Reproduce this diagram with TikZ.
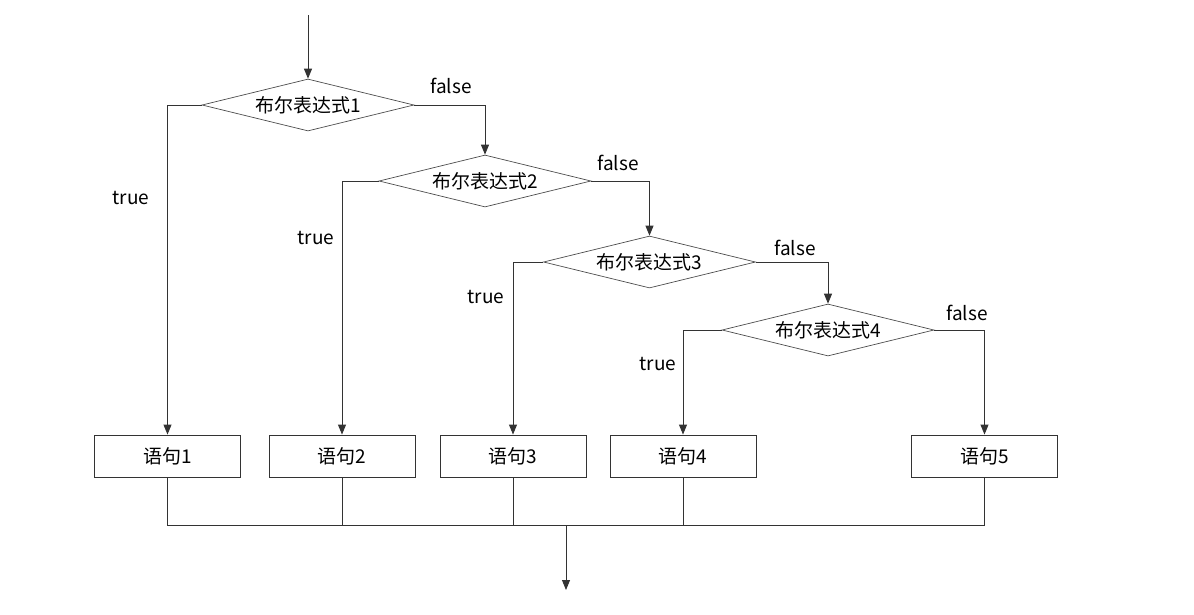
\documentclass[tikz,border=0pt]{standalone}
\usepackage{fontspec}
\setmainfont{Noto Sans CJK SC}
\usetikzlibrary{shapes.geometric,arrows.meta}
\begin{document}
\begin{tikzpicture}[x=1pt,y=-1pt,
  line/.style={draw=black!80, line width=0.9pt},
  arr/.style={line, -{Triangle[length=10pt,width=8pt]}},
  cond/.style={diamond, draw=black!70, line width=0.7pt, aspect=4.1, minimum width=212pt, minimum height=52pt, inner sep=0pt, font=\fontsize{19}{21}\selectfont},
  stmt/.style={rectangle, draw=black!80, line width=0.9pt, minimum width=146pt, minimum height=42pt, inner sep=0pt, font=\fontsize{19}{21}\selectfont},
  lbl/.style={font=\fontsize{19}{21}\selectfont, inner sep=0pt}]
\useasboundingbox (0,0) rectangle (1194,614);
\node[cond] (d1) at (308,105) {布尔表达式1};
\node[cond] (d2) at (485,181) {布尔表达式2};
\node[cond] (d3) at (649.5,262) {布尔表达式3};
\node[cond] (d4) at (828,330) {布尔表达式4};
\node[stmt] (s1) at (167.5,456) {语句1};
\node[stmt] (s2) at (342,456) {语句2};
\node[stmt] (s3) at (513,456) {语句3};
\node[stmt] (s4) at (683,456) {语句4};
\node[stmt] (s5) at (984.5,456) {语句5};
\coordinate (in) at (308,15);
\coordinate (j) at (566,525);
\coordinate (out) at (566,590);
\draw[arr] (in) -- (d1.north);
\draw[arr] (d1.west) -| (s1.north);
\draw[arr] (d1.east) -| (d2.north);
\draw[arr] (d2.west) -| (s2.north);
\draw[arr] (d2.east) -| (d3.north);
\draw[arr] (d3.west) -| (s3.north);
\draw[arr] (d3.east) -| (d4.north);
\draw[arr] (d4.west) -| (s4.north);
\draw[arr] (d4.east) -| (s5.north);
\draw[line] (s1.south) |- (j);
\draw[line] (s5.south) |- (j);
\draw[line] (s2.south) -- (s2.south |- j);
\draw[line] (s3.south) -- (s3.south |- j);
\draw[line] (s4.south) -- (s4.south |- j);
\draw[arr] (j) -- (out);
\node[lbl] (f1) at (451,86) {false};
\node[lbl] (t1) at (131,198) {true};
\node[lbl] (f2) at (618,163) {false};
\node[lbl] (t2) at (316,238) {true};
\node[lbl] (f3) at (795,248) {false};
\node[lbl] (t3) at (486,297) {true};
\node[lbl] (f4) at (967,313) {false};
\node[lbl] (t4) at (658,364) {true};
\end{tikzpicture}
\end{document}
